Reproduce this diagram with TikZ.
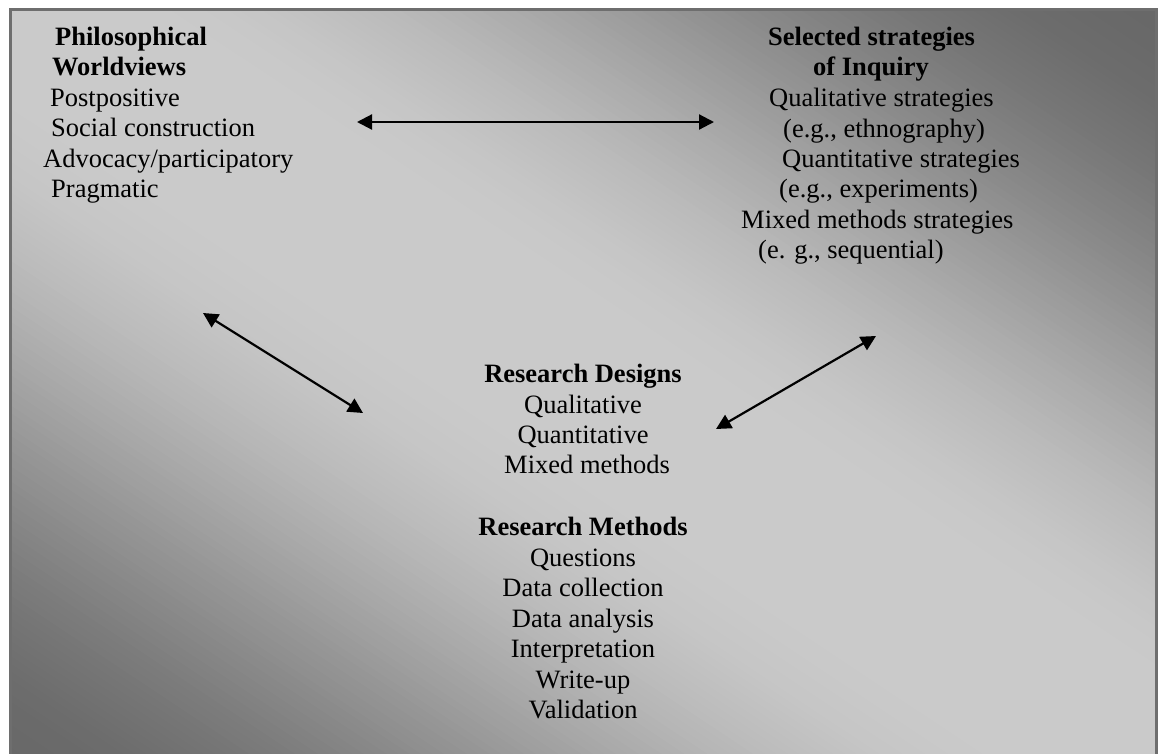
\documentclass[tikz,border=0pt]{standalone}
\usepackage{fontspec}
\setmainfont{Liberation Serif}
\usetikzlibrary{arrows.meta}
\definecolor{framegray}{HTML}{6E6E6E}

\begin{document}
\begin{tikzpicture}[x=1pt,y=-1pt,
  txt/.style={inner sep=0pt, font=\fontsize{26.5}{30}\selectfont, anchor=base west},
  ctxt/.style={txt, anchor=base},
  head/.style={font=\fontsize{26.5}{30}\selectfont\bfseries},
  link/.style={{Triangle[length=15pt,width=15pt]}-{Triangle[length=15pt,width=15pt]},
               line width=2.2pt, black}]
\useasboundingbox (0,0) rectangle (1158,753);

% diagonal two-way gradient panel: light along the top-left/bottom-right diagonal,
% darkening smoothly towards the top-right and bottom-left corners
\begin{scope}
  \clip (10,9) rectangle (1156,770);
  \begin{scope}[shift={(10,9)}, x={(1146pt,0pt)}, y={(0pt,-761pt)}]
    \foreach \i in {0,...,199} {
      \pgfmathsetmacro\a{-1+0.01*\i}
      \pgfmathsetmacro\b{\a+0.014}
      \pgfmathsetmacro\s{min(1,max(0,(abs(\a+0.005)-0.1)/0.9))}
      \pgfmathsetmacro\g{(202-98*(3*\s*\s-2*\s*\s*\s))/255}
      \definecolor{stripc}{gray}{\g}
      \fill[stripc] ({\a-1},-1) -- ({\b-1},-1) -- ({\b+2},2) -- ({\a+2},2) -- cycle;
    }
  \end{scope}
\end{scope}
\draw[framegray, line width=3pt] (10,9) rectangle (1156,770);

% philosophical worldviews
\node[txt,head] (pw1) at (55,45)  {Philosophical};
\node[txt,head] (pw2) at (52,75)  {Worldviews};
\node[txt] (pw3) at (50,106) {Postpositive};
\node[txt] (pw4) at (51,136) {Social construction};
\node[txt] (pw5) at (43,167) {Advocacy/participatory};
\node[txt] (pw6) at (51,197) {Pragmatic};

% strategies of inquiry
\node[txt,head] (si1) at (768,45) {Selected strategies};
\node[txt,head] (si2) at (813,75) {of Inquiry};
\node[txt] (si3) at (769,106) {Qualitative strategies};
\node[txt] (si4) at (783,137) {(e.g., ethnography)};
\node[txt] (si5) at (782,167) {Quantitative strategies};
\node[txt] (si6) at (779,197) {(e.g., experiments)};
\node[txt] (si7) at (741,228) {Mixed methods strategies};
\node[txt] (si8) at (758,258) {(e. g., sequential)};

% research designs
\node[ctxt,head] (rd1) at (583,382) {Research Designs};
\node[ctxt] (rd2) at (583,413) {Qualitative};
\node[ctxt] (rd3) at (583,443) {Quantitative};
\node[ctxt] (rd4) at (587,473) {Mixed methods};

% research methods
\node[ctxt,head] (rm1) at (583,535) {Research Methods};
\node[ctxt] (rm2) at (583,566) {Questions};
\node[ctxt] (rm3) at (583,596) {Data collection};
\node[ctxt] (rm4) at (583,627) {Data analysis};
\node[ctxt] (rm5) at (583,657) {Interpretation};
\node[ctxt] (rm6) at (583,688) {Write-up};
\node[ctxt] (rm7) at (583,718) {Validation};

% two-way arrows between the blocks
\coordinate (h1) at (357,122);
\coordinate (h2) at (714,122);
\coordinate (l1) at (203,313);
\coordinate (l2) at (363,413);
\coordinate (r1) at (716,429);
\coordinate (r2) at (876,336);
\draw[link] (h1) -- (h2);
\draw[link] (l1) -- (l2);
\draw[link] (r1) -- (r2);
\end{tikzpicture}
\end{document}
